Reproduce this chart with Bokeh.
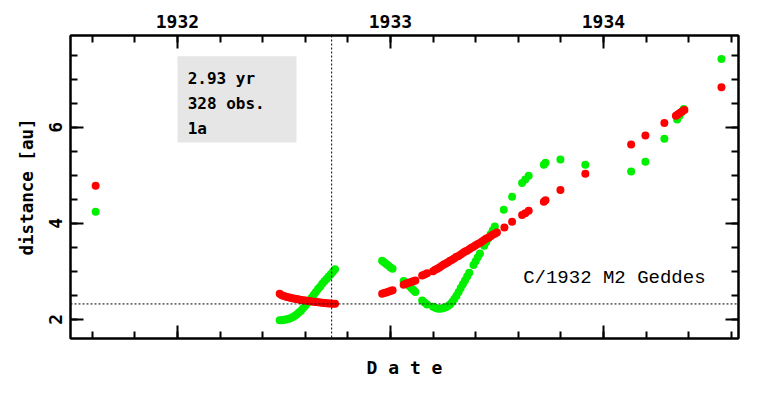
from bokeh.plotting import figure
from bokeh.models import (LinearAxis, SingleIntervalTicker, Span, Label, BoxAnnotation)
from bokeh.embed import file_html
from bokeh.resources import INLINE

# ---- data (decimal year, distance in au) ----
red_x = [1931.616,
         1932.48, 1932.49, 1932.50, 1932.51, 1932.52, 1932.53, 1932.54, 1932.55, 1932.56,
         1932.57, 1932.58, 1932.59, 1932.60, 1932.61, 1932.62, 1932.63, 1932.64, 1932.65,
         1932.66, 1932.67, 1932.68, 1932.69, 1932.70, 1932.71, 1932.72, 1932.73, 1932.74,
         1932.961, 1932.97, 1932.98, 1932.99, 1933.00, 1933.01,
         1933.062, 1933.07, 1933.08, 1933.09, 1933.10, 1933.11, 1933.117,
         1933.149, 1933.16, 1933.172,
         1933.20, 1933.21, 1933.22, 1933.23, 1933.24, 1933.25, 1933.26, 1933.27, 1933.28,
         1933.29, 1933.30, 1933.31, 1933.32, 1933.33, 1933.34, 1933.35, 1933.36, 1933.37,
         1933.38, 1933.39, 1933.40, 1933.41, 1933.42, 1933.43, 1933.44, 1933.45, 1933.46,
         1933.47, 1933.48, 1933.49, 1933.50,
         1933.535, 1933.571, 1933.618, 1933.633, 1933.649, 1933.720, 1933.728, 1933.798,
         1933.915, 1934.130, 1934.197, 1934.286, 1934.34, 1934.35, 1934.36, 1934.37,
         1934.38, 1934.554]
red_y = [4.78,
         2.53, 2.50, 2.485, 2.47, 2.46, 2.45, 2.44, 2.43, 2.42,
         2.41, 2.40, 2.395, 2.39, 2.385, 2.38, 2.37, 2.365, 2.36,
         2.355, 2.35, 2.345, 2.34, 2.335, 2.33, 2.33, 2.325, 2.325,
         2.53, 2.545, 2.56, 2.575, 2.59, 2.605,
         2.72, 2.735, 2.75, 2.765, 2.78, 2.795, 2.81,
         2.91, 2.935, 2.96,
         3.00, 3.03, 3.05, 3.08, 3.11, 3.14, 3.16, 3.19, 3.22,
         3.24, 3.27, 3.30, 3.32, 3.35, 3.38, 3.41, 3.43, 3.46,
         3.49, 3.51, 3.54, 3.57, 3.59, 3.62, 3.65, 3.68, 3.70,
         3.73, 3.76, 3.78, 3.81,
         3.91, 4.03, 4.17, 4.21, 4.26, 4.45, 4.48, 4.69,
         5.03, 5.64, 5.83, 6.09, 6.24, 6.27, 6.30, 6.33,
         6.36, 6.83]

green_x = [1931.616,
           1932.48, 1932.49, 1932.50, 1932.51, 1932.52, 1932.53, 1932.54, 1932.55, 1932.56,
           1932.57, 1932.58, 1932.59, 1932.60, 1932.61, 1932.62, 1932.63, 1932.64, 1932.65,
           1932.66, 1932.67, 1932.68, 1932.69, 1932.70, 1932.71, 1932.72, 1932.73, 1932.74,
           1932.961, 1932.97, 1932.98, 1932.99, 1933.00, 1933.01,
           1933.062, 1933.07, 1933.08, 1933.09, 1933.10, 1933.11, 1933.117,
           1933.149, 1933.16, 1933.172,
           1933.20, 1933.21, 1933.22, 1933.23, 1933.24, 1933.25, 1933.26, 1933.27, 1933.28,
           1933.29, 1933.30, 1933.31, 1933.32, 1933.33, 1933.34, 1933.35, 1933.36, 1933.37,
           1933.39, 1933.40, 1933.41, 1933.42, 1933.44, 1933.45, 1933.46, 1933.47, 1933.48,
           1933.49,
           1933.532, 1933.571, 1933.618, 1933.633, 1933.649, 1933.720, 1933.728, 1933.798,
           1933.915, 1934.130, 1934.197, 1934.286, 1934.346, 1934.357, 1934.367, 1934.377,
           1934.554]
green_y = [4.24,
           1.98, 1.98, 1.99, 1.995, 2.005, 2.02, 2.04, 2.07, 2.10,
           2.14, 2.18, 2.23, 2.28, 2.34, 2.39, 2.45, 2.51, 2.57,
           2.63, 2.68, 2.74, 2.79, 2.84, 2.89, 2.94, 2.99, 3.04,
           3.22, 3.19, 3.15, 3.12, 3.08, 3.05,
           2.80, 2.77, 2.73, 2.69, 2.64, 2.60, 2.57,
           2.39, 2.35, 2.31,
           2.26, 2.24, 2.225, 2.22, 2.225, 2.235, 2.25, 2.275, 2.31,
           2.36, 2.42, 2.49, 2.57, 2.65, 2.73, 2.81, 2.89, 2.97,
           3.13, 3.21, 3.29, 3.37, 3.53, 3.61, 3.69, 3.77, 3.85,
           3.93,
           4.28, 4.55, 4.84, 4.91, 4.99, 5.22, 5.26, 5.33,
           5.22, 5.08, 5.28, 5.76, 6.16, 6.24, 6.31, 6.38,
           7.42]

perihelion_year = 1932.724
perihelion_dist = 2.32
info_lines = ["2.93 yr", "328 obs.", "1a"]
comet_name = "C/1932 M2 Geddes"

BOLD_FONT = "DejaVu Sans Mono"
NAME_FONT = "Liberation Mono"

p = figure(width=748, height=380, x_range=(1931.498, 1934.634), y_range=(1.60, 7.91),
           output_backend="svg", toolbar_location=None, x_axis_location="above",
           min_border_left=70, min_border_right=10, min_border_top=35, min_border_bottom=40)
p.xgrid.visible = False
p.ygrid.visible = False
p.outline_line_color = "black"
p.outline_line_width = 2
p.background_fill_color = "white"
p.border_fill_color = "white"

xt = SingleIntervalTicker(interval=1, num_minor_ticks=5)
yt = SingleIntervalTicker(interval=2, num_minor_ticks=4)

def style(ax):
    ax.axis_line_width = 2
    ax.major_tick_line_width = 2
    ax.minor_tick_line_width = 2
    ax.major_tick_in = 13
    ax.major_tick_out = 0
    ax.minor_tick_in = 7
    ax.minor_tick_out = 0
    ax.major_label_text_font = BOLD_FONT
    ax.major_label_text_font_style = "bold"
    ax.major_label_text_font_size = "18px"
    ax.major_label_text_color = "black"
    ax.axis_label_text_font = BOLD_FONT
    ax.axis_label_text_font_style = "bold"
    ax.axis_label_text_font_size = "18px"
    ax.axis_label_text_color = "black"

top = p.xaxis[0]
top.ticker = xt
style(top)
top.major_label_standoff = 8

left = p.yaxis[0]
left.ticker = yt
style(left)
left.major_label_orientation = "vertical"
left.major_label_standoff = 8
left.axis_label = "distance [au]"
left.axis_label_text_font_size = "17.5px"
left.axis_label_standoff = 10

bottom = LinearAxis(ticker=xt)
style(bottom)
bottom.major_label_text_font_size = "0px"
bottom.major_label_standoff = 0
bottom.axis_label = "D a t e"
bottom.axis_label_standoff = 18
p.add_layout(bottom, "below")

right = LinearAxis(ticker=yt)
style(right)
right.major_label_text_font_size = "0px"
right.major_label_standoff = 0
p.add_layout(right, "right")

p.add_layout(Span(location=perihelion_year, dimension="height", line_color="black",
                  line_width=1, line_dash="2 2"))
p.add_layout(Span(location=perihelion_dist, dimension="width", line_color="black",
                  line_width=1, line_dash="2 2"))

p.add_layout(BoxAnnotation(left=1932.0, right=1932.559, bottom=5.68, top=7.48,
                           fill_color="#e6e6e6", fill_alpha=1.0, line_color=None,
                           level="underlay"))
for txt, yy in zip(info_lines, [7.019, 6.501, 5.969]):
    p.add_layout(Label(x=1932.048, y=yy, text=txt, text_font=BOLD_FONT,
                       text_font_style="bold", text_font_size="16px",
                       text_baseline="alphabetic", text_color="black"))

p.add_layout(Label(x=1933.623, y=2.863, text=comet_name, text_font=NAME_FONT,
                   text_font_size="19px", text_baseline="alphabetic", text_color="black"))

p.scatter(green_x, green_y, size=8, fill_color="#00f000", line_color=None)
p.scatter(red_x, red_y, size=8, fill_color="#ff0000", line_color=None)

open("out.html", "w").write(file_html(p, INLINE))
